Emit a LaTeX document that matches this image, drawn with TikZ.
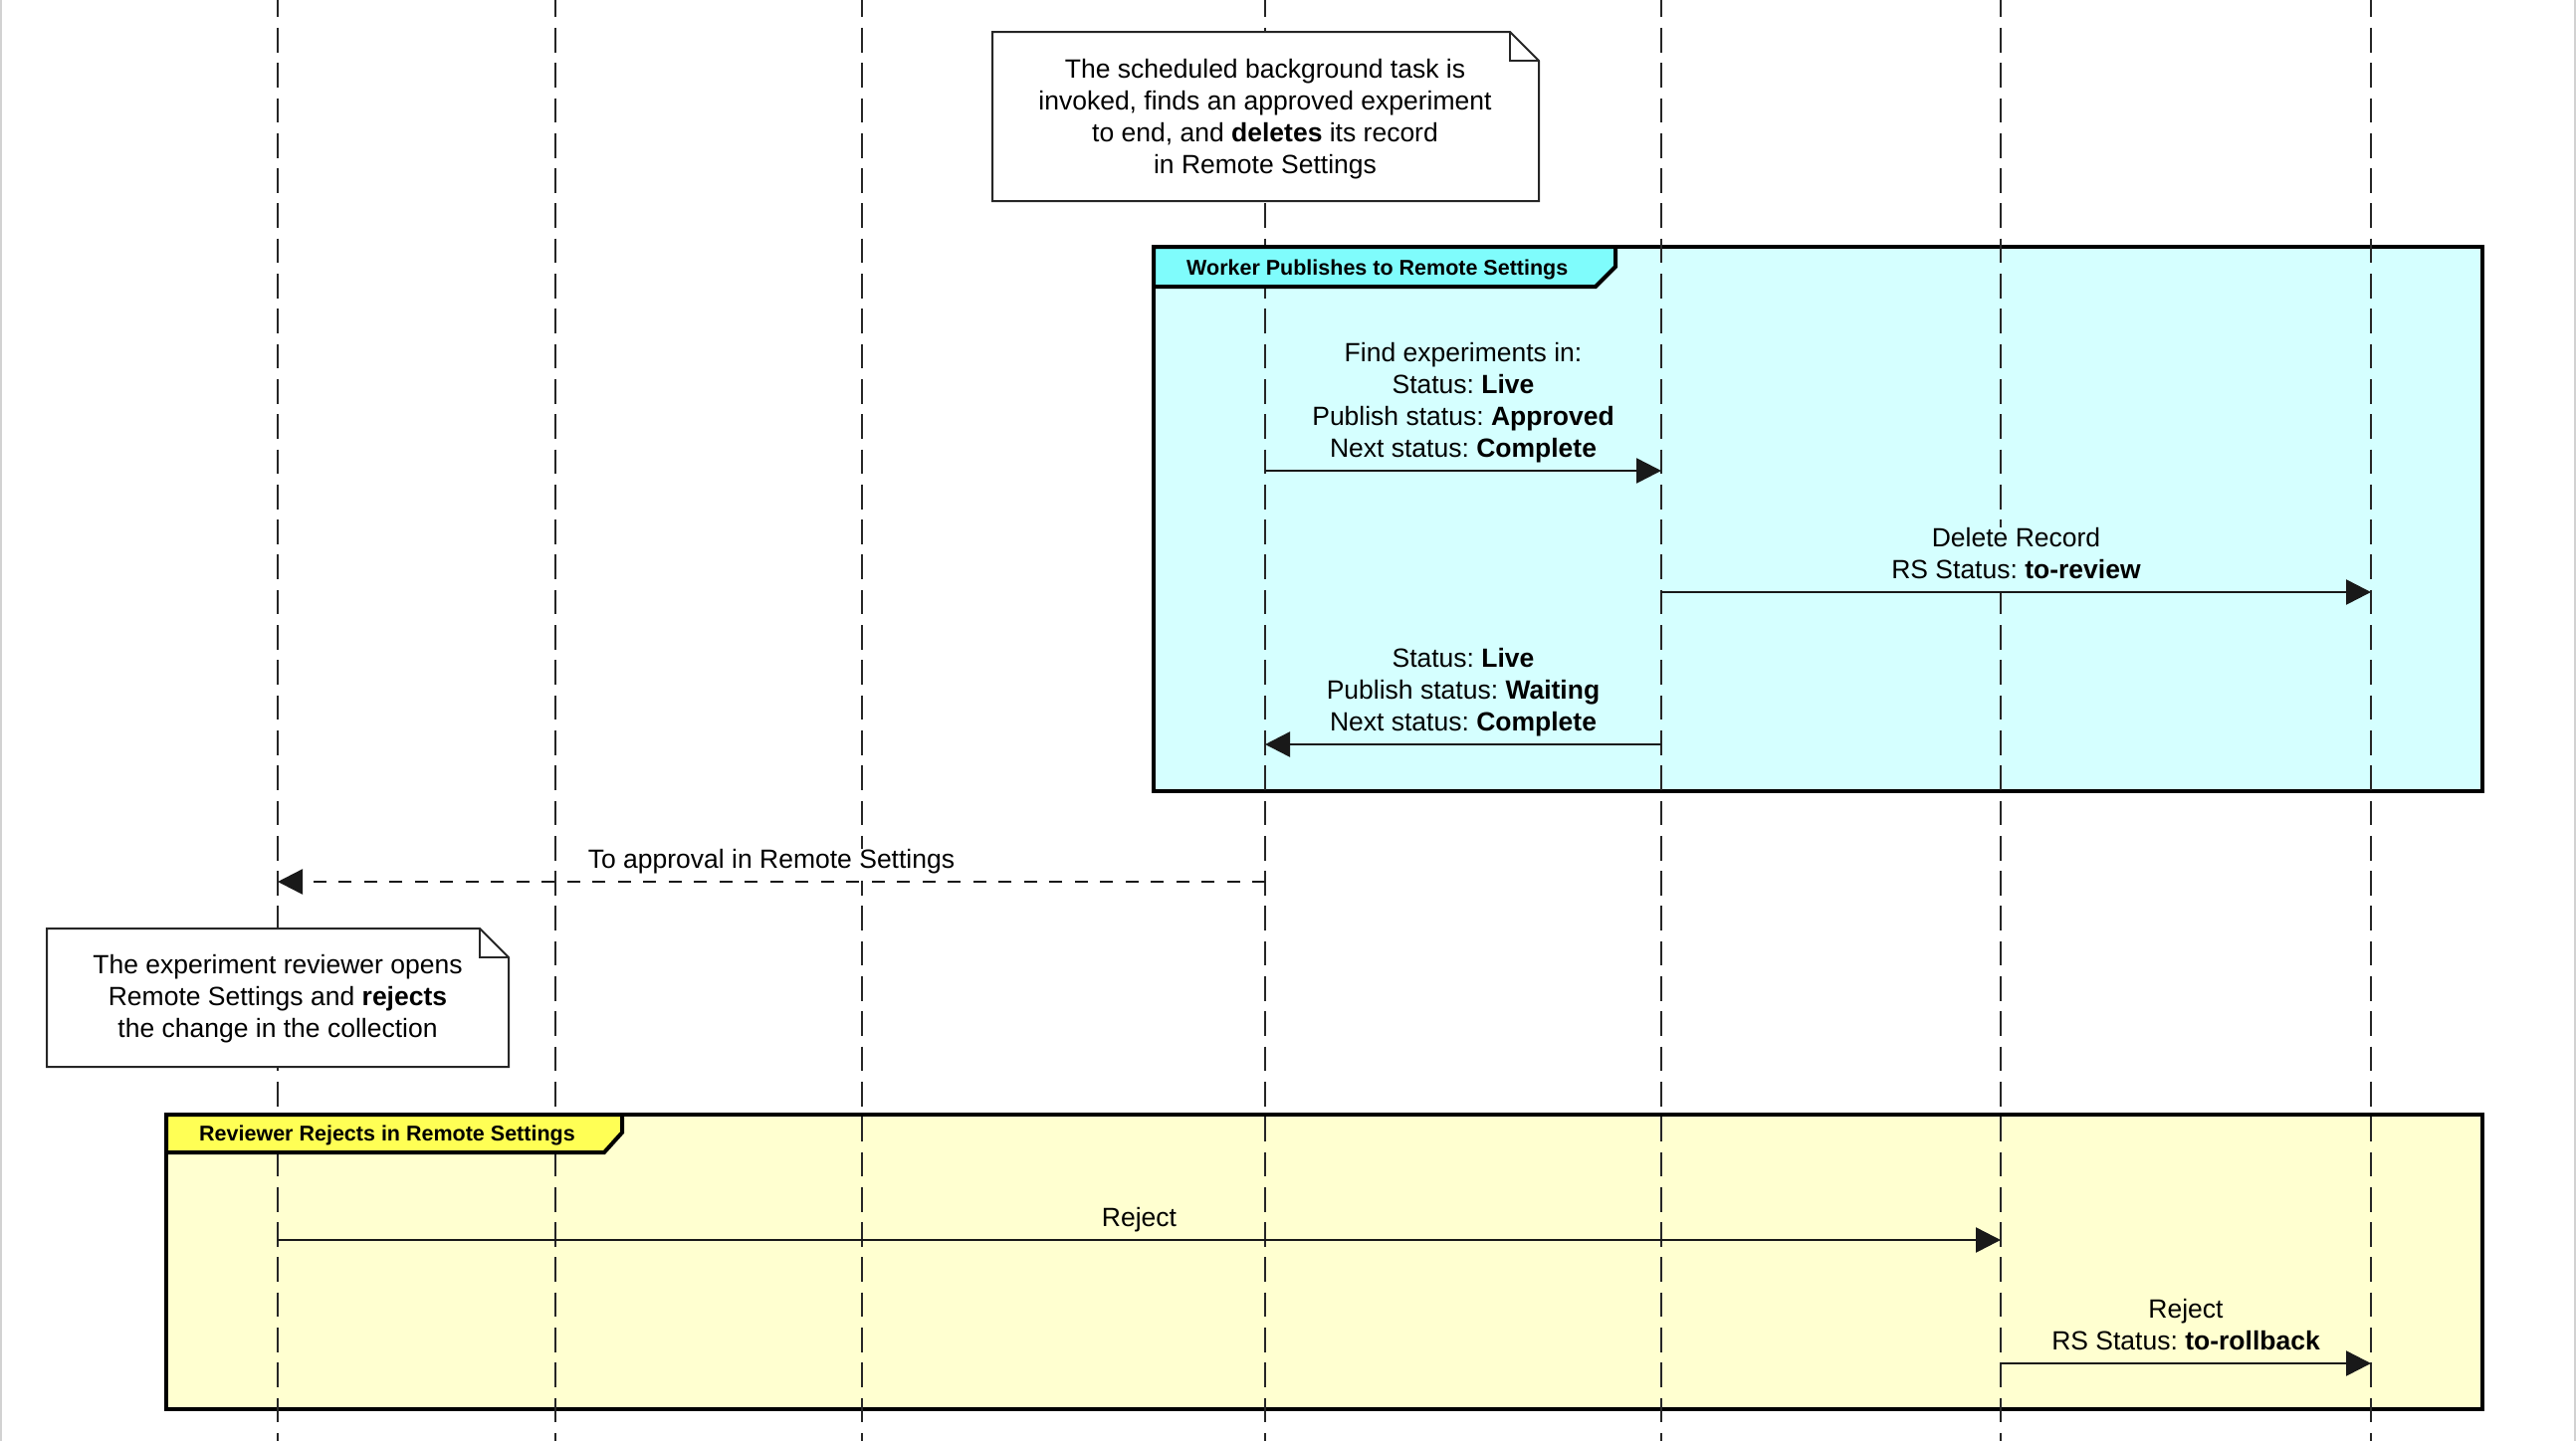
\documentclass[tikz,border=0pt]{standalone}
\usepackage{fontspec}
\setmainfont{Liberation Sans}
\usetikzlibrary{arrows.meta,calc}
\definecolor{cyanhead}{HTML}{7FFCFC}
\definecolor{cyanbody}{HTML}{D5FFFF}
\definecolor{yelhead}{HTML}{FFFF55}
\definecolor{yelbody}{HTML}{FFFFD0}
\frenchspacing
\begin{document}
\begin{tikzpicture}[x=1pt,y=-1pt,
  lifeline/.style={draw=black!85, line width=2.2pt, dash pattern=on 24.7pt off 10.6pt, dash phase=7.4pt},
  msg/.style={draw=black!90, line width=2.5pt, -{Triangle[length=25pt,width=25pt]}},
  retmsg/.style={msg, dash pattern=on 13pt off 12.5pt},
  lbl/.style={font=\fontsize{26.5}{32}\selectfont, align=center, inner xsep=2pt, inner ysep=0pt, anchor=south, text depth=12pt},
  notebody/.style={fill=white, draw=black!85, line width=2pt, line join=miter},
  notetext/.style={font=\fontsize{26.5}{32}\selectfont, align=center, inner sep=0pt, anchor=south, text depth=0pt},
  framebody/.style={line width=4pt, draw=black, line join=miter},
  tabshape/.style={line width=4pt, draw=black, line join=miter},
  tabtext/.style={font=\fontsize{21.5}{26}\selectfont\bfseries, inner sep=0pt, anchor=base west},
]
\useasboundingbox (0,0) rectangle (2588,1448);
\fill[white] (0,0) rectangle (2588,1448);
\draw[gray!35, line width=2pt] (1,0) -- (1,1448);
\draw[gray!35, line width=2pt] (2587,0) -- (2587,1448);

% lifeline end points
\foreach \n/\x in {1/279,2/558,3/866,4/1271,5/1669,6/2010,7/2382}{
  \coordinate (L\n t) at (\x,0);
  \coordinate (L\n b) at (\x,1448);
}

% group bodies
\draw[framebody, fill=cyanbody] (1159,248) rectangle (2494,795);
\draw[framebody, fill=yelbody] (167,1120) rectangle (2494,1416);

% lifelines
\foreach \n in {1,...,7}{ \draw[lifeline] (L\n t) -- (L\n b); }

% group tabs
\draw[tabshape, fill=cyanhead] (1159,248) -- (1623,248) -- (1623,268) -- (1603,288) -- (1159,288) -- cycle;
\node[tabtext] (gworker) at (1192,276) {Worker Publishes to Remote Settings};
\draw[tabshape, fill=yelhead] (167,1120) -- (625,1120) -- (625,1138) -- (607,1158) -- (167,1158) -- cycle;
\node[tabtext] (greview) at (200,1146) {Reviewer Rejects in Remote Settings};

% notes
\draw[notebody] (997,32) -- (1517,32) -- (1546,61) -- (1546,202) -- (997,202) -- cycle;
\draw[notebody, fill=none] (1517,32) -- (1517,61) -- (1546,61);
\node[notetext] (note1) at (1271,174.5) {The scheduled background task is\\invoked, finds an approved experiment\\to end, and \textbf{deletes} its record\\in Remote Settings};

\draw[notebody] (47,933) -- (482,933) -- (511,962) -- (511,1072) -- (47,1072) -- cycle;
\draw[notebody, fill=none] (482,933) -- (482,962) -- (511,962);
\node[notetext] (note2) at (279,1042.5) {The experiment reviewer opens\\Remote Settings and \textbf{rejects}\\the change in the collection};

% message anchor points
\coordinate (m1a) at (1271,473);  \coordinate (m1b) at (1669,473);
\coordinate (m2a) at (1669,595);  \coordinate (m2b) at (2382,595);
\coordinate (m3a) at (1669,748);  \coordinate (m3b) at (1271,748);
\coordinate (m4a) at (1271,886);  \coordinate (m4b) at (279,886);
\coordinate (m5a) at (279,1246);  \coordinate (m5b) at (2010,1246);
\coordinate (m6a) at (2010,1370); \coordinate (m6b) at (2382,1370);

% labels
\node[lbl, fill=cyanbody] (t1) at ($(m1a)!0.5!(m1b)+(0,-1.3)$) {Find experiments in:\\Status: \textbf{Live}\\Publish status: \textbf{Approved}\\Next status: \textbf{Complete}};
\node[lbl, fill=cyanbody] (t2) at ($(m2a)!0.5!(m2b)+(0,-1.3)$) {Delete Record\\RS Status: \textbf{to-review}};
\node[lbl, fill=cyanbody] (t3) at ($(m3a)!0.5!(m3b)+(0,-1.3)$) {Status: \textbf{Live}\\Publish status: \textbf{Waiting}\\Next status: \textbf{Complete}};
\node[lbl, fill=white] (t4) at ($(m4a)!0.5!(m4b)+(0,-1.3)$) {To approval in Remote Settings};
\node[lbl, fill=yelbody] (t5) at ($(m5a)!0.5!(m5b)+(0,-1.3)$) {Reject};
\node[lbl, fill=yelbody] (t6) at ($(m6a)!0.5!(m6b)+(0,-1.3)$) {Reject\\RS Status: \textbf{to-rollback}};

% messages
\draw[msg] (m1a) -- (m1b);
\draw[msg] (m2a) -- (m2b);
\draw[msg] (m3a) -- (m3b);
\draw[retmsg] (m4a) -- (m4b);
\draw[msg] (m5a) -- (m5b);
\draw[msg] (m6a) -- (m6b);
\end{tikzpicture}
\end{document}
